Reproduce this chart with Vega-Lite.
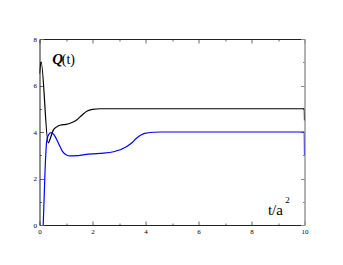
{
  "$schema": "https://vega.github.io/schema/vega-lite/v6.json",
  "width": 265,
  "height": 186,
  "autosize": {"type": "none"},
  "padding": {"left": 39.5, "top": 39, "right": 38.5, "bottom": 40},
  "background": "white",
  "config": {"view": {"stroke": null}},
  "datasets": {
    "curves": [
      {"series": "black", "i": 0, "t": 0.0, "v": 6.5},
      {"series": "black", "i": 1, "t": 0.06, "v": 7.02},
      {"series": "black", "i": 2, "t": 0.33, "v": 3.53},
      {"series": "black", "i": 3, "t": 0.4, "v": 3.7},
      {"series": "black", "i": 4, "t": 0.52, "v": 4.08},
      {"series": "black", "i": 5, "t": 0.62, "v": 4.2},
      {"series": "black", "i": 6, "t": 0.8, "v": 4.3},
      {"series": "black", "i": 7, "t": 1.0, "v": 4.33},
      {"series": "black", "i": 8, "t": 1.2, "v": 4.4},
      {"series": "black", "i": 9, "t": 1.4, "v": 4.52},
      {"series": "black", "i": 10, "t": 1.6, "v": 4.72},
      {"series": "black", "i": 11, "t": 1.8, "v": 4.9},
      {"series": "black", "i": 12, "t": 2.0, "v": 4.97},
      {"series": "black", "i": 13, "t": 2.3, "v": 5.0},
      {"series": "black", "i": 14, "t": 9.99, "v": 5.0},
      {"series": "black", "i": 15, "t": 10.0, "v": 4.5},
      {"series": "blue", "i": 0, "t": 0.14, "v": 0.0},
      {"series": "blue", "i": 1, "t": 0.21, "v": 2.37},
      {"series": "blue", "i": 2, "t": 0.27, "v": 3.6},
      {"series": "blue", "i": 3, "t": 0.35, "v": 3.9},
      {"series": "blue", "i": 4, "t": 0.44, "v": 3.97},
      {"series": "blue", "i": 5, "t": 0.55, "v": 3.88},
      {"series": "blue", "i": 6, "t": 0.71, "v": 3.53},
      {"series": "blue", "i": 7, "t": 0.86, "v": 3.18},
      {"series": "blue", "i": 8, "t": 1.02, "v": 3.01},
      {"series": "blue", "i": 9, "t": 1.15, "v": 2.97},
      {"series": "blue", "i": 10, "t": 1.4, "v": 2.98},
      {"series": "blue", "i": 11, "t": 1.7, "v": 3.03},
      {"series": "blue", "i": 12, "t": 2.28, "v": 3.08},
      {"series": "blue", "i": 13, "t": 2.8, "v": 3.15},
      {"series": "blue", "i": 14, "t": 3.28, "v": 3.37},
      {"series": "blue", "i": 15, "t": 3.5, "v": 3.55},
      {"series": "blue", "i": 16, "t": 3.66, "v": 3.73},
      {"series": "blue", "i": 17, "t": 3.85, "v": 3.88},
      {"series": "blue", "i": 18, "t": 3.97, "v": 3.94},
      {"series": "blue", "i": 19, "t": 4.29, "v": 3.99},
      {"series": "blue", "i": 20, "t": 4.6, "v": 4.0},
      {"series": "blue", "i": 21, "t": 9.99, "v": 4.0},
      {"series": "blue", "i": 22, "t": 10.0, "v": 3.0}
    ]
  },
  "layer": [
    {
      "data": {"name": "curves"},
      "mark": {"type": "line", "interpolate": "monotone", "strokeWidth": 1.2, "clip": true},
      "encoding": {
        "x": {
          "field": "t", "type": "quantitative",
          "scale": {"domain": [0, 10], "nice": false, "zero": false},
          "axis": {
            "orient": "bottom", "title": null, "grid": false,
            "values": [0, 1, 2, 3, 4, 5, 6, 7, 8, 9, 10],
            "labelExpr": "datum.value % 2 == 0 ? datum.label : ''",
            "tickSize": {"condition": {"test": "datum.value % 2 == 0", "value": -4}, "value": -2},
            "tickColor": "#666", "domainColor": "#222",
            "labelFont": "Liberation Serif", "labelFontSize": 7, "labelColor": "#000",
            "labelPadding": 6, "labelFlush": false
          }
        },
        "y": {
          "field": "v", "type": "quantitative",
          "scale": {"domain": [0, 8], "nice": false, "zero": false},
          "axis": {
            "orient": "left", "title": null, "grid": false,
            "values": [0, 1, 2, 3, 4, 5, 6, 7, 8],
            "labelExpr": "datum.value % 2 == 0 ? datum.label : ''",
            "tickSize": {"condition": {"test": "datum.value % 2 == 0", "value": -4}, "value": -2},
            "tickColor": "#666", "domainColor": "#222",
            "labelFont": "Liberation Serif", "labelFontSize": 7, "labelColor": "#000",
            "labelPadding": 7, "labelFlush": false
          }
        },
        "color": {"field": "series", "type": "nominal", "scale": {"domain": ["black", "blue"], "range": ["#000000", "#0000ff"]}, "legend": null},
        "detail": {"field": "series"},
        "order": {"field": "i", "type": "quantitative"}
      }
    },
    {
      "data": {"values": [{"t": 0.48, "v": 6.92, "s": "Q"}]},
      "mark": {"type": "text", "align": "left", "baseline": "alphabetic", "font": "Liberation Serif", "fontSize": 15, "fontWeight": "bold", "fontStyle": "italic", "color": "#000"},
      "encoding": {
        "x": {"field": "t", "type": "quantitative", "axis": {
            "orient": "top", "title": null, "grid": false, "labels": false,
            "values": [0, 1, 2, 3, 4, 5, 6, 7, 8, 9, 10],
            "tickSize": {"condition": {"test": "datum.value % 2 == 0", "value": -4}, "value": -2},
            "tickColor": "#666", "domainColor": "#222"}},
        "y": {"field": "v", "type": "quantitative", "axis": {
            "orient": "right", "title": null, "grid": false, "labels": false,
            "values": [0, 1, 2, 3, 4, 5, 6, 7, 8],
            "tickSize": {"condition": {"test": "datum.value % 2 == 0", "value": -4}, "value": -2},
            "tickColor": "#888", "domainColor": "#999", "domainWidth": 1.5}},
        "text": {"field": "s"}
      }
    },
    {
      "data": {"values": [{"t": 0.84, "v": 6.92, "s": "(t)"}]},
      "mark": {"type": "text", "align": "left", "baseline": "alphabetic", "font": "Liberation Serif", "fontSize": 14, "color": "#000"},
      "encoding": {
        "x": {"field": "t", "type": "quantitative", "axis": null},
        "y": {"field": "v", "type": "quantitative", "axis": null},
        "text": {"field": "s"}
      }
    },
    {
      "data": {"values": [{"t": 8.62, "v": 0.43, "s": "t/a"}]},
      "mark": {"type": "text", "align": "left", "baseline": "alphabetic", "font": "Liberation Serif", "fontSize": 15, "color": "#000"},
      "encoding": {
        "x": {"field": "t", "type": "quantitative", "axis": null},
        "y": {"field": "v", "type": "quantitative", "axis": null},
        "text": {"field": "s"}
      }
    },
    {
      "data": {"values": [{"t": 9.27, "v": 0.95, "s": "2"}]},
      "mark": {"type": "text", "align": "left", "baseline": "alphabetic", "font": "Liberation Serif", "fontSize": 9, "color": "#000"},
      "encoding": {
        "x": {"field": "t", "type": "quantitative", "axis": null},
        "y": {"field": "v", "type": "quantitative", "axis": null},
        "text": {"field": "s"}
      }
    }
  ],
  "resolve": {"axis": {"x": "independent", "y": "independent"}}
}
